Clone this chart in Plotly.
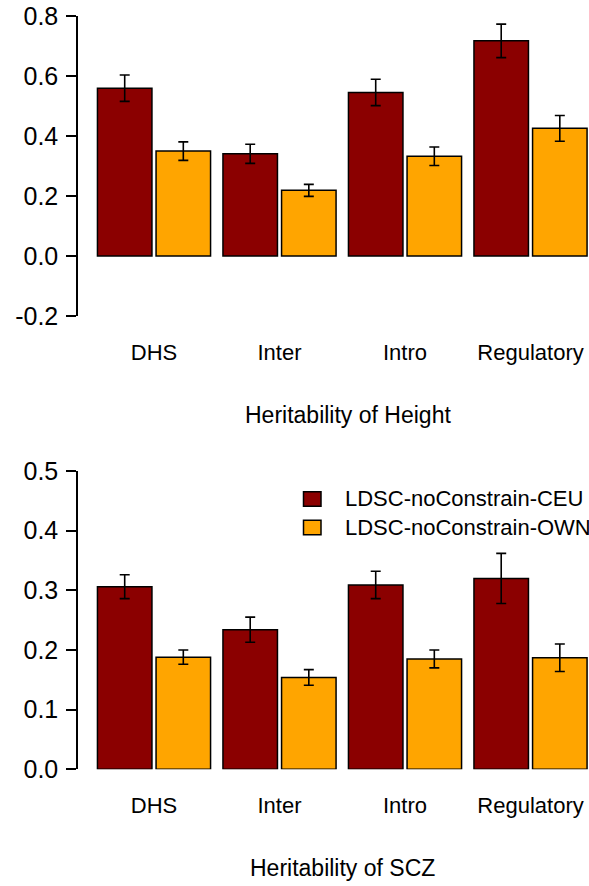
import plotly.graph_objects as go

# Annotation classes on the x axis
categories = ["DHS", "Inter", "Intro", "Regulatory"]
series_names = ["LDSC-noConstrain-CEU", "LDSC-noConstrain-OWN"]
series_colors = ["#8B0000", "#FFA500"]

# Heritability of Height
height_ceu = [0.560, 0.341, 0.546, 0.718]
height_ceu_se = [0.044, 0.032, 0.044, 0.056]
height_own = [0.350, 0.219, 0.333, 0.426]
height_own_se = [0.031, 0.020, 0.031, 0.043]

# Heritability of SCZ
scz_ceu = [0.306, 0.234, 0.309, 0.320]
scz_ceu_se = [0.020, 0.021, 0.023, 0.042]
scz_own = [0.188, 0.154, 0.185, 0.187]
scz_own_se = [0.012, 0.013, 0.015, 0.023]

# Y tick values / labels for each panel
height_ticks = [-0.2, 0.0, 0.2, 0.4, 0.6, 0.8]
height_ticktext = ["-0.2", "0.0", "0.2", "0.4", "0.6", "0.8"]
scz_ticks = [0.0, 0.1, 0.2, 0.3, 0.4, 0.5]
scz_ticktext = ["0.0", "0.1", "0.2", "0.3", "0.4", "0.5"]

panel_titles = ["Heritability of Height", "Heritability of SCZ"]

FONT = "Liberation Sans, Arial, Helvetica, sans-serif"
W, H = 589, 886

fig = go.Figure()


def add_bars(values, errors, name, color, xa, ya):
    fig.add_trace(go.Bar(
        x=categories, y=values, name=name,
        marker=dict(color=color, line=dict(color="black", width=1.5)),
        error_y=dict(type="data", array=errors, visible=True,
                     color="black", thickness=1.6, width=5),
        xaxis=xa, yaxis=ya, showlegend=False, offsetgroup=name,
    ))


add_bars(height_ceu, height_ceu_se, series_names[0], series_colors[0], "x", "y")
add_bars(height_own, height_own_se, series_names[1], series_colors[1], "x", "y")
add_bars(scz_ceu, scz_ceu_se, series_names[0], series_colors[0], "x2", "y2")
add_bars(scz_own, scz_own_se, series_names[1], series_colors[1], "x2", "y2")

# pixel layout of the two panels
left_px = 78
top_panel = (16.3, 315.9)   # top/bottom pixel rows of the upper plotting area
bot_panel = (471.0, 769.3)


def ydom(p):
    return [1 - p[1] / H, 1 - p[0] / H]


xdom = [left_px / W, 1.0]
xrange_ = [-0.6056, 3.466]

xaxis_common = dict(
    type="category", range=xrange_, domain=xdom, automargin=False,
    showline=False, showgrid=False, zeroline=False, ticks="",
    tickfont=dict(family=FONT, size=22, color="black"),
    ticklabelstandoff=21,
)
yaxis_common = dict(
    automargin=False,
    showline=True, linecolor="black", linewidth=1.5,
    ticks="outside", ticklen=10, tickwidth=1.5, tickcolor="black",
    showgrid=False, zeroline=False,
    tickfont=dict(family=FONT, size=25, color="black"),
    ticklabelstandoff=3,
)

# legend keys for the lower panel (drawn in pixel terms of the page)
legend_rows_px = [499.0, 527.5]
legend_key_x = (303.5, 321.0)
legend_key_h = 14.5
legend_text_x = 343.0

shapes = []
annotations = []
for i, (name, color) in enumerate(zip(series_names, series_colors)):
    yc = legend_rows_px[i]
    shapes.append(dict(
        type="rect", xref="paper", yref="paper",
        x0=legend_key_x[0] / W, x1=legend_key_x[1] / W,
        y0=1 - (yc + legend_key_h / 2) / H, y1=1 - (yc - legend_key_h / 2) / H,
        fillcolor=color, line=dict(color="black", width=1.5),
    ))
    annotations.append(dict(
        text=name, xref="paper", yref="paper",
        x=legend_text_x / W, y=1 - yc / H, xanchor="left", yanchor="middle",
        showarrow=False, font=dict(family=FONT, size=22, color="black"),
    ))

annotations += [
    dict(text=panel_titles[0], xref="paper", yref="paper",
         x=348 / W, y=1 - 415 / H, xanchor="center", yanchor="middle",
         showarrow=False, font=dict(family=FONT, size=23, color="black")),
    dict(text=panel_titles[1], xref="paper", yref="paper",
         x=342.5 / W, y=1 - 868 / H, xanchor="center", yanchor="middle",
         showarrow=False, font=dict(family=FONT, size=23, color="black")),
]

fig.update_layout(
    width=W, height=H,
    margin=dict(l=0, r=0, t=0, b=0, pad=0),
    paper_bgcolor="white", plot_bgcolor="white",
    barmode="group", bargap=0.066, bargroupgap=0.07,
    font=dict(family=FONT, color="black"),
    showlegend=False,
    xaxis=dict(xaxis_common, anchor="y"),
    yaxis=dict(yaxis_common, domain=ydom(top_panel), range=[-0.2, 0.8],
               tickvals=height_ticks, ticktext=height_ticktext, anchor="x"),
    xaxis2=dict(xaxis_common, anchor="y2"),
    yaxis2=dict(yaxis_common, domain=ydom(bot_panel), range=[0.0, 0.5],
                tickvals=scz_ticks, ticktext=scz_ticktext, anchor="x2"),
    shapes=shapes,
    annotations=annotations,
)

fig.write_html("out.html")
